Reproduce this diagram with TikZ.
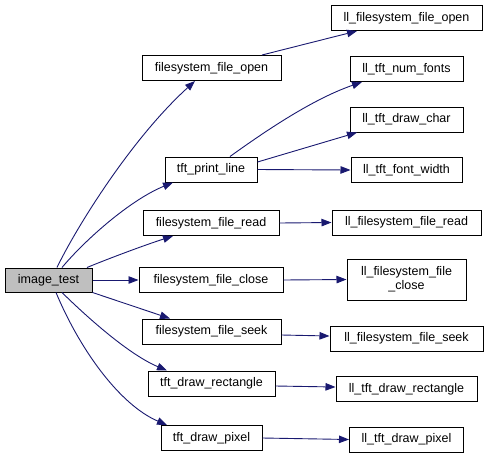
\documentclass[tikz,border=0pt]{standalone}
\usepackage{fontspec}
\setmainfont{Liberation Sans}
\usetikzlibrary{arrows.meta}
\definecolor{edgeblue}{HTML}{191970}
\definecolor{rootgray}{HTML}{BFBFBF}
\begin{document}
\begin{tikzpicture}[x=1pt,y=-1pt,
  box/.style={draw=black,line width=1pt,fill=white,minimum height=25pt,inner sep=0pt,font=\fontsize{12.5}{14}\selectfont},
  call/.style={draw=edgeblue,line width=0.9pt,-{Triangle[length=10pt,width=7.5pt]}}]
\useasboundingbox (0,0) rectangle (488,459);
% left
\node[box,fill=rootgray,minimum width=87pt,minimum height=24pt] (img) at (48.5,280) {image\_test};
% middle
\node[box,minimum width=139pt] (fopen) at (211.5,68) {filesystem\_file\_open};
\node[box,minimum width=92pt] (pline) at (211,169.5) {tft\_print\_line};
\node[box,minimum width=136pt] (fread) at (211,223) {filesystem\_file\_read};
\node[box,minimum width=144pt] (fclose) at (211,280) {filesystem\_file\_close};
\node[box,minimum width=139pt] (fseek) at (211.5,331.5) {filesystem\_file\_seek};
\node[box,minimum width=127pt] (drect) at (211.5,383.5) {tft\_draw\_rectangle};
\node[box,minimum width=101pt] (dpix) at (211.5,438) {tft\_draw\_pixel};
% right
\node[box,minimum width=151pt] (llopen) at (406.5,18) {ll\_filesystem\_file\_open};
\node[box,minimum width=113pt] (numf) at (406.5,69) {ll\_tft\_num\_fonts};
\node[box,minimum width=113pt] (dchar) at (406.5,119.5) {ll\_tft\_draw\_char};
\node[box,minimum width=111pt] (fwid) at (406.5,170) {ll\_tft\_font\_width};
\node[box,minimum width=149pt] (llread) at (406.5,222.5) {ll\_filesystem\_file\_read};
\node[box,minimum width=119pt,minimum height=41pt,align=center] (llclose) at (406.5,279.5) {ll\_filesystem\_file\\\_close};
\node[box,minimum width=153pt] (llseek) at (406.5,338.5) {ll\_filesystem\_file\_seek};
\node[box,minimum width=141pt] (llrect) at (406.5,389) {ll\_tft\_draw\_rectangle};
\node[box,minimum width=114pt] (llpix) at (406.5,439.5) {ll\_tft\_draw\_pixel};
% edges from image_test
\draw[call] ([xshift=8.5pt]img.north) .. controls (75,230) and (130,140) .. ([xshift=-16.5pt]fopen.south);
\draw[call] ([xshift=13.5pt]img.north) .. controls (85,240) and (130,200) .. ([xshift=-38pt]pline.south);
\draw[call] ([xshift=38.5pt]img.north) .. controls (110,258) and (145,245) .. ([xshift=-38pt]fread.south);
\draw[call] (img.east) -- (fclose.west);
\draw[call] (img.south east) -- ([xshift=-41.5pt]fseek.north);
\draw[call] ([xshift=13.5pt]img.south) .. controls (90,320) and (130,355) .. ([xshift=-44.5pt]drect.north);
\draw[call] ([xshift=7.5pt]img.south) .. controls (80,350) and (120,405) .. ([xshift=-44.5pt]dpix.north);
% second level
\draw[call] ([xshift=50.5pt]fopen.north) -- ([xshift=-49.5pt]llopen.south);
\draw[call] ([xshift=19pt]pline.north) .. controls (260,135) and (310,100) .. ([xshift=-44.5pt]numf.south);
\draw[call] ([yshift=7.5pt]pline.east) -- ([xshift=-49.5pt]dchar.south);
\draw[call] (pline.east) -- (fwid.west);
\draw[call] (fread.east) -- (llread.west);
\draw[call] (fclose.east) -- (llclose.west);
\draw[call] ([yshift=-3.5pt]fseek.east) -- ([yshift=2.5pt]llseek.west);
\draw[call] ([yshift=-2.5pt]drect.east) -- ([yshift=2pt]llrect.west);
\draw[call] (dpix.east) -- (llpix.west);
\end{tikzpicture}
\end{document}
